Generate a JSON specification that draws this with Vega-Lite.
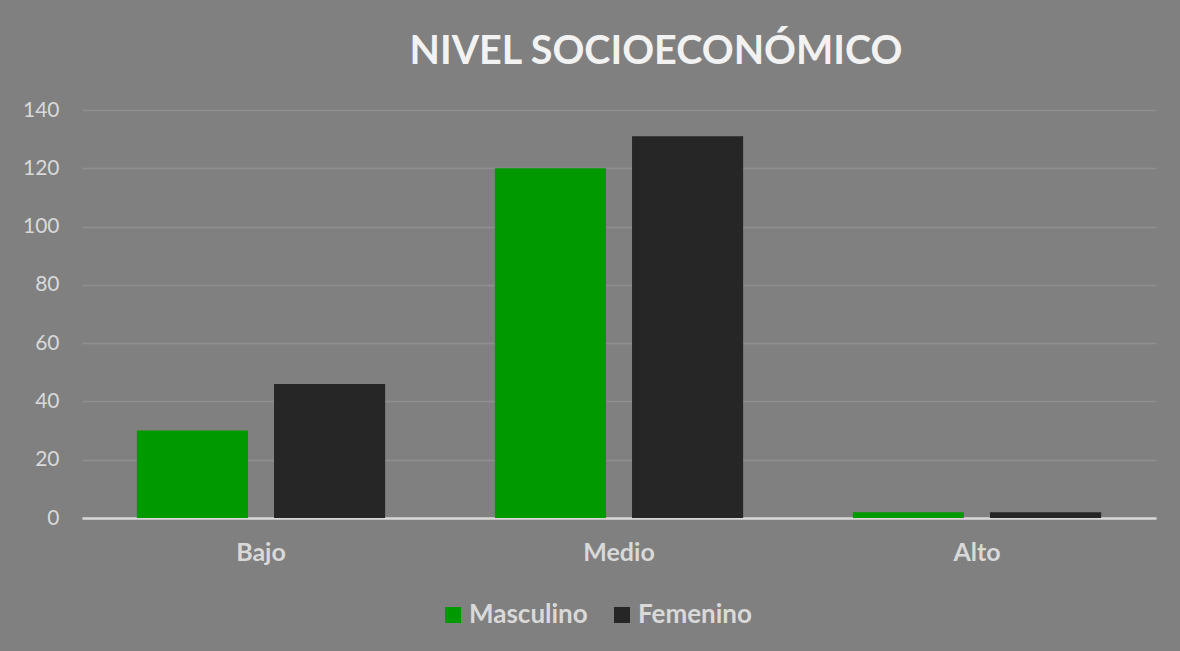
{
  "$schema": "https://vega.github.io/schema/vega-lite/v6.json",
  "autosize": {"type": "none"},
  "width": 1074,
  "height": 408,
  "padding": {"left": 82, "top": 110, "right": 24, "bottom": 133},
  "background": "#808080",
  "config": {
    "view": {"stroke": null},
    "font": "Lato"
  },
  "title": {
    "text": "NIVEL SOCIOECONÓMICO",
    "font": "Lato",
    "fontSize": 39.5,
    "fontWeight": "bold",
    "color": "#f2f2f2",
    "anchor": "middle",
    "dx": 37,
    "offset": -4,
    "baseline": "alphabetic"
  },
  "data": {
    "values": [
      {"nivel": "Bajo", "sexo": "Masculino", "valor": 30},
      {"nivel": "Bajo", "sexo": "Femenino", "valor": 46},
      {"nivel": "Medio", "sexo": "Masculino", "valor": 120},
      {"nivel": "Medio", "sexo": "Femenino", "valor": 131},
      {"nivel": "Alto", "sexo": "Masculino", "valor": 2},
      {"nivel": "Alto", "sexo": "Femenino", "valor": 2}
    ]
  },
  "mark": {"type": "bar"},
  "encoding": {
    "x": {
      "field": "nivel",
      "type": "nominal",
      "sort": ["Bajo", "Medio", "Alto"],
      "scale": {"paddingInner": 0, "paddingOuter": 0},
      "axis": {
        "title": null,
        "labelAngle": 0,
        "labelFont": "Lato",
        "labelFontSize": 25,
        "labelFontWeight": "bold",
        "labelColor": "#d9d9d9",
        "labelPadding": 22,
        "ticks": false,
        "domainColor": "#d9d9d9",
        "domainWidth": 2.5,
        "grid": false
      }
    },
    "xOffset": {
      "field": "sexo",
      "type": "nominal",
      "sort": ["Masculino", "Femenino"],
      "scale": {"paddingInner": 0.19, "paddingOuter": 0.4}
    },
    "y": {
      "field": "valor",
      "type": "quantitative",
      "scale": {"domain": [0, 140], "nice": false},
      "axis": {
        "title": null,
        "values": [0, 20, 40, 60, 80, 100, 120, 140],
        "labelFont": "Lato",
        "labelFontSize": 21,
        "labelColor": "#d9d9d9",
        "labelPadding": 23,
        "ticks": false,
        "domain": false,
        "gridColor": "#8f8f8f",
        "gridWidth": 1.5
      }
    },
    "color": {
      "field": "sexo",
      "type": "nominal",
      "sort": ["Masculino", "Femenino"],
      "scale": {"domain": ["Masculino", "Femenino"], "range": ["#009900", "#262626"]},
      "legend": {
        "title": null,
        "orient": "none",
        "legendX": 358,
        "legendY": 492,
        "direction": "horizontal",
        "symbolType": "square",
        "symbolSize": 256,
        "symbolStrokeWidth": 0,
        "labelFont": "Lato",
        "labelFontSize": 26,
        "labelFontWeight": "bold",
        "labelColor": "#d9d9d9",
        "labelOffset": 3,
        "columnPadding": 21
      }
    }
  }
}
